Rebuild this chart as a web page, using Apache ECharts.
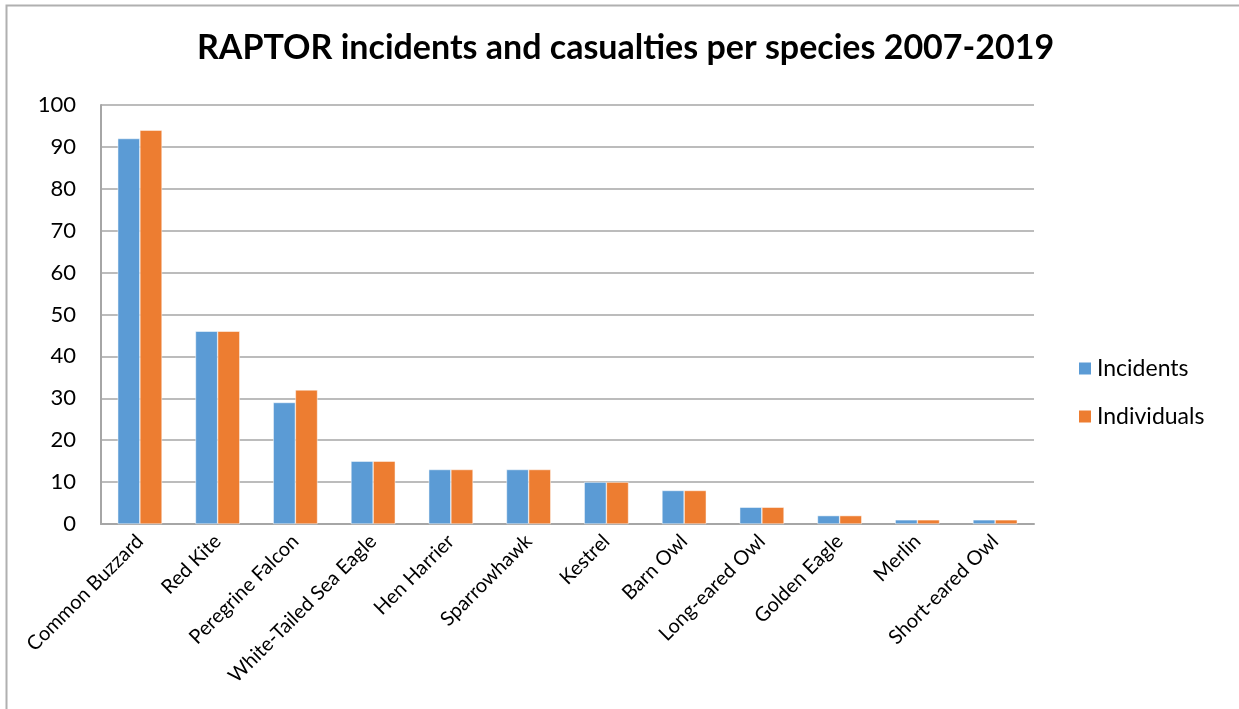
<!DOCTYPE html>
<html>
<head>
<meta charset="utf-8">
<script src="https://cdn.jsdelivr.net/npm/echarts@6/dist/echarts.min.js"></script>
<style>
  html, body { margin: 0; padding: 0; background: #fff; }
  #chart { width: 1239px; height: 709px; }
</style>
</head>
<body>
<div id="chart"></div>
<script>
// Species on the category axis
const species = [
  'Common Buzzard', 'Red Kite', 'Peregrine Falcon', 'White-Tailed Sea Eagle',
  'Hen Harrier', 'Sparrowhawk', 'Kestrel', 'Barn Owl',
  'Long-eared Owl', 'Golden Eagle', 'Merlin', 'Short-eared Owl'
];
// Number of recorded incidents per species
const incidents = [92, 46, 29, 15, 13, 13, 10, 8, 4, 2, 1, 1];
// Number of individual birds affected per species
const individuals = [94, 46, 32, 15, 13, 13, 10, 8, 4, 2, 1, 1];

const FONT = 'Lato, "Open Sans", sans-serif';
const GRID_GREY = '#a6a6a6';

const chart = echarts.init(document.getElementById('chart'), null, { renderer: 'canvas' });

chart.setOption({
  backgroundColor: '#ffffff',
  animation: false,
  title: {
    text: 'RAPTOR incidents and casualties per species 2007-2019',
    left: 197,
    top: 31,
    padding: 0,
    textStyle: { fontFamily: FONT, fontWeight: 'bold', fontSize: 34, color: '#000' }
  },
  legend: {
    orient: 'vertical',
    left: 1077,
    top: 357,
    padding: 0,
    itemWidth: 14,
    itemHeight: 14,
    itemGap: 25,
    icon: 'rect',
    textStyle: { fontFamily: FONT, fontSize: 23, color: '#000' },
    data: ['Incidents', 'Individuals']
  },
  grid: { left: 101, right: 205, top: 105, bottom: 185, containLabel: false },
  xAxis: {
    type: 'category',
    data: species,
    axisLine: { show: true, lineStyle: { color: GRID_GREY, width: 2 } },
    axisTick: { show: false },
    axisLabel: {
      rotate: 45,
      interval: 0,
      margin: 14,
      fontFamily: FONT,
      fontSize: 20,
      color: '#000'
    }
  },
  yAxis: {
    type: 'value',
    min: 0,
    max: 100,
    interval: 10,
    axisLine: { show: true, lineStyle: { color: GRID_GREY, width: 2 } },
    axisTick: { show: false },
    axisLabel: { margin: 25, fontFamily: FONT, fontSize: 22, color: '#000' },
    splitLine: { show: true, lineStyle: { color: GRID_GREY, width: 1.5 } }
  },
  series: [
    {
      name: 'Incidents',
      type: 'bar',
      data: incidents,
      barGap: '0%',
      barCategoryGap: '43%',
      itemStyle: { color: '#5b9bd5', borderColor: '#ffffff', borderWidth: 0.5 }
    },
    {
      name: 'Individuals',
      type: 'bar',
      data: individuals,
      barGap: '0%',
      barCategoryGap: '43%',
      itemStyle: { color: '#ed7d31', borderColor: '#ffffff', borderWidth: 0.5 }
    }
  ],
  graphic: [
    {
      type: 'rect',
      silent: true,
      shape: { x: 6.5, y: 5.5, width: 1400, height: 900 },
      style: { fill: 'none', stroke: '#b0b0b0', lineWidth: 2 }
    }
  ]
});
</script>
</body>
</html>
